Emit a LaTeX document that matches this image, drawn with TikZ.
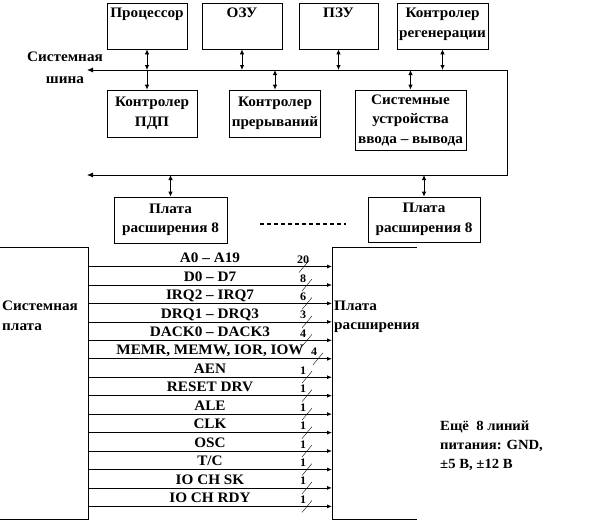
\documentclass[tikz,border=0pt]{standalone}
\usepackage{fontspec}
\setmainfont{Liberation Serif}[FakeStretch=1.05]
\usetikzlibrary{arrows.meta}

\tikzset{
  blk/.style={draw, line width=0.8pt, inner sep=2pt, align=center},
  link/.style={{Latex[length=5pt,width=4.5pt]}-{Latex[length=5pt,width=4.5pt]}, line width=0.8pt},
  down/.style={-{Latex[length=5pt,width=4.5pt]}, line width=0.8pt},
  bus/.style={{Latex[length=6pt,width=5pt]}-{Latex[length=6pt,width=5pt]}, line width=0.8pt},
  sig/.style={-{Latex[length=5pt,width=4pt]}, line width=0.8pt},
  sname/.style={anchor=south, inner sep=0pt, text height=9.5pt, text depth=0pt, yshift=3.5pt},
  snum/.style={anchor=base, inner sep=0pt, font=\fontsize{11.5}{13}\selectfont\bfseries},
  tick/.style={line width=0.4pt}
}

\begin{document}
\begin{tikzpicture}[x=1pt, y=-1pt, font=\fontsize{14.5}{19.5}\selectfont\bfseries]
  \useasboundingbox (0,0) rectangle (593,522);

  % top row
  \node[blk, minimum width=80pt, minimum height=46pt,
        label={[anchor=north, yshift=-2pt, align=center]north:Процессор}] (cpu) at (147,26) {};
  \node[blk, minimum width=80pt, minimum height=46pt,
        label={[anchor=north, yshift=-2pt, align=center]north:ОЗУ}] (ram) at (242,26) {};
  \node[blk, minimum width=79pt, minimum height=46pt,
        label={[anchor=north, yshift=-2pt, align=center]north:ПЗУ}] (rom) at (338.5,26) {};
  \node[blk, minimum width=91pt, minimum height=46pt,
        label={[anchor=north, yshift=-2pt, align=center]north:Контролер\\регенерации}] (regen) at (442.5,26) {};

  % second row
  \node[blk, minimum width=90pt, minimum height=47pt] (dma) at (152,113.5) {Контролер\\ПДП};
  \node[blk, minimum width=90pt, minimum height=47pt] (irq) at (275,113.5) {Контролер\\прерываний};
  \node[blk, minimum width=111pt, minimum height=60pt] (io) at (410.5,120) {Системные\\устройства\\ввода – вывода};

  % system bus
  \coordinate (busL) at (87,70);
  \coordinate (busR) at (507,70);
  \coordinate (busRb) at (507,175);
  \coordinate (busLb) at (87,175);
  \draw[bus] (busL) -- (busR) -- (busRb) -- (busLb);
  \node[align=center, inner sep=0pt] (busname) at (65,68) {Системная\\[2.5pt]шина};

  \draw[link] (cpu.south) -- (cpu.south |- busL);
  \draw[down] (cpu.south |- busL) -- (cpu.south |- dma.north);
  \draw[link] (ram.south) -- (ram.south |- busL);
  \draw[link] (rom.south) -- (rom.south |- busL);
  \draw[link] (regen.south) -- (regen.south |- busL);
  \draw[link] (irq.north |- busL) -- (irq.north);
  \draw[link] (io.north |- busL) -- (io.north);

  % expansion boards
  \node[blk, minimum width=113pt, minimum height=46pt] (pl1) at (170.5,220) {Плата\\расширения 8};
  \node[blk, minimum width=112pt, minimum height=45pt] (pl2) at (424,219.5) {Плата\\расширения 8};
  \draw[link] (pl1.north |- busLb) -- (pl1.north);
  \draw[link] (pl2.north |- busLb) -- (pl2.north);
  \coordinate (d1) at (260,224);
  \coordinate (d2) at (346,224);
  \draw[line width=1.2pt, dash pattern=on 4pt off 3pt] (d1) -- (d2);

  % slot
  \draw[line width=0.8pt] (0,247) -- (88,247) -- (88,519) -- (0,519);
  \draw[line width=0.8pt] (417,247) -- (332,247) -- (332,519) -- (417,519);
  \node[anchor=west, align=left, inner sep=0pt] (sysb) at (2,316) {Системная\\плата};
  \node[anchor=west, align=left, inner sep=0pt] (expb) at (334,317) {Плата\\расширения};

  \foreach \y/\txt/\n/\nx [count=\i] in {
      266.5/{A0 – A19}/20/297, 285/{D0 – D7}/8/300, 303.4/{IRQ2 – IRQ7}/6/300,
      321.9/{DRQ1 – DRQ3}/3/300, 340.3/{DACK0 – DACK3}/4/300,
      358.8/{MEMR, MEMW, IOR, IOW}/4/311, 377.2/{AEN}/1/300, 395.7/{RESET  DRV}/1/300,
      414.1/{ALE}/1/300, 432.6/{CLK}/1/300, 451/{OSC}/1/300, 469.5/{T/C}/1/300,
      487.9/{IO CH SK}/1/300, 506.4/{IO CH RDY}/1/300} {
    \coordinate (l\i) at (88,\y);
    \coordinate (r\i) at (332,\y);
    \draw[sig] (l\i) -- node[sname] {\txt} (r\i);
    \node[snum, anchor=base west] (n\i) at (\nx,\y-3) {\n};
    \draw[tick] (\nx+2,\y+6) -- (\nx+12,\y-6);
  }

  \node[anchor=west, align=left, inner sep=0pt,
        font=\fontsize{14}{19}\selectfont\bfseries] (pwr) at (440,446) {Ещё \ 8 линий\\питания: GND,\\±5 В, ±12 В};
\end{tikzpicture}
\end{document}
